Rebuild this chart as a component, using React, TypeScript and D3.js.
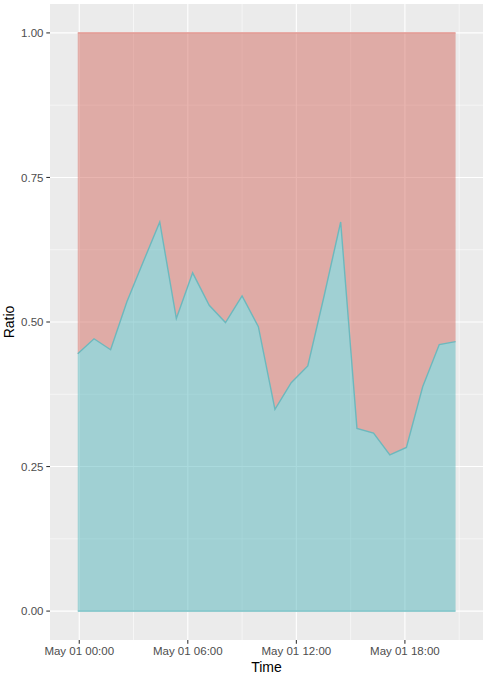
import { useMemo } from 'react';
import * as d3 from 'd3';

// sample times (local) and the two stacked shares
const times = [
  '2021-04-30 23:55', '2021-05-01 00:49', '2021-05-01 01:44', '2021-05-01 02:38',
  '2021-05-01 03:33', '2021-05-01 04:27', '2021-05-01 05:22', '2021-05-01 06:16',
  '2021-05-01 07:11', '2021-05-01 08:05', '2021-05-01 09:00', '2021-05-01 09:54',
  '2021-05-01 10:49', '2021-05-01 11:43', '2021-05-01 12:38', '2021-05-01 13:32',
  '2021-05-01 14:27', '2021-05-01 15:21', '2021-05-01 16:16', '2021-05-01 17:10',
  '2021-05-01 18:05', '2021-05-01 18:59', '2021-05-01 19:54', '2021-05-01 20:48',
];
const lower = [
  0.445, 0.471, 0.452, 0.535, 0.605, 0.673, 0.506, 0.585, 0.529, 0.499, 0.545, 0.492,
  0.349, 0.395, 0.424, 0.545, 0.673, 0.316, 0.308, 0.27, 0.283, 0.388, 0.461, 0.466,
];
const upper = [
  0.555, 0.529, 0.548, 0.465, 0.395, 0.327, 0.494, 0.415, 0.471, 0.501, 0.455, 0.508,
  0.651, 0.605, 0.576, 0.455, 0.327, 0.684, 0.692, 0.73, 0.717, 0.612, 0.539, 0.534,
];
const yTicks = [0, 0.25, 0.5, 0.75, 1];
const yMinor = [0.125, 0.375, 0.625, 0.875];
const xTickHours = [0, 6, 12, 18];
const xMinorHours = [3, 9, 15, 21];

const W = 485;
const H = 681;
const panel = { left: 50, right: 483, top: 4, bottom: 640 };

const parse = d3.timeParse('%Y-%m-%d %H:%M');
const fmt = d3.timeFormat('%b %d %H:%M');

export default function App() {
  const rows = useMemo(
    () => times.map((t, i) => ({ time: parse(t) as Date, lower: lower[i], upper: upper[i] })),
    []
  );

  const x = d3
    .scaleTime()
    .domain([parse('2021-04-30 22:23') as Date, parse('2021-05-01 22:19') as Date])
    .range([panel.left, panel.right]);
  const y = d3.scaleLinear().domain([-0.05, 1.05]).range([panel.bottom, panel.top]);

  const series = d3.stack<any>().keys(['lower', 'upper'])(rows);

  const area = d3
    .area<any>()
    .x((d) => x(d.data.time))
    .y0((d) => y(d[0]))
    .y1((d) => y(d[1]));
  const topLine = d3
    .line<any>()
    .x((d) => x(d.data.time))
    .y((d) => y(d[1]));
  const baseLine = d3
    .line<any>()
    .x((d) => x(d.data.time))
    .y((d) => y(d[0]));

  const day = (h: number) => d3.timeHour.offset(parse('2021-05-01 00:00') as Date, h);
  const font = "'Liberation Sans', Arial, Helvetica, sans-serif";

  return (
    <svg
      width={W}
      height={H}
      style={{ position: 'absolute', left: 0, top: 0, background: '#fff' }}
      fontFamily={font}
    >
      <rect
        x={panel.left}
        y={panel.top}
        width={panel.right - panel.left}
        height={panel.bottom - panel.top}
        fill="#EBEBEB"
      />
      {yMinor.map((v) => (
        <line key={'ym' + v} x1={panel.left} x2={panel.right} y1={y(v)} y2={y(v)} stroke="#fff" strokeWidth={0.55} />
      ))}
      {xMinorHours.map((h) => (
        <line key={'xm' + h} x1={x(day(h))} x2={x(day(h))} y1={panel.top} y2={panel.bottom} stroke="#fff" strokeWidth={0.55} />
      ))}
      {yTicks.map((v) => (
        <line key={'y' + v} x1={panel.left} x2={panel.right} y1={y(v)} y2={y(v)} stroke="#fff" strokeWidth={1.1} />
      ))}
      {xTickHours.map((h) => (
        <line key={'x' + h} x1={x(day(h))} x2={x(day(h))} y1={panel.top} y2={panel.bottom} stroke="#fff" strokeWidth={1.1} />
      ))}

      {/* stacked areas */}
      <path d={area(series[1]) || ''} fill="#D36B61" fillOpacity={0.5} />
      <path d={area(series[0]) || ''} fill="#55B5BB" fillOpacity={0.5} />
      <path d={topLine(series[1]) || ''} fill="none" stroke="#E0908A" strokeWidth={1.4} />
      <path d={baseLine(series[0]) || ''} fill="none" stroke="#70BDC1" strokeWidth={1.4} />
      <path d={topLine(series[0]) || ''} fill="none" stroke="#6DB8BD" strokeWidth={1.4} />

      {/* y axis */}
      {yTicks.map((v) => (
        <g key={'yt' + v}>
          <line x1={panel.left - 3.7} x2={panel.left} y1={y(v)} y2={y(v)} stroke="#333" strokeWidth={1.07} />
          <text x={panel.left - 6.5} y={y(v)} dy="0.36em" textAnchor="end" fontSize={11.5} fill="#4D4D4D">
            {d3.format('.2f')(v)}
          </text>
        </g>
      ))}
      {/* x axis */}
      {xTickHours.map((h) => (
        <g key={'xt' + h}>
          <line x1={x(day(h))} x2={x(day(h))} y1={panel.bottom} y2={panel.bottom + 3.7} stroke="#333" strokeWidth={1.07} />
          <text x={x(day(h))} y={655.3} textAnchor="middle" fontSize={11.5} fill="#4D4D4D">
            {fmt(day(h))}
          </text>
        </g>
      ))}
      <text x={(panel.left + panel.right) / 2} y={671.5} textAnchor="middle" fontSize={14} fill="#000">
        Time
      </text>
      <text
        transform={`translate(14,${(panel.top + panel.bottom) / 2}) rotate(-90)`}
        textAnchor="middle"
        fontSize={14}
        fill="#000"
      >
        Ratio
      </text>
    </svg>
  );
}
